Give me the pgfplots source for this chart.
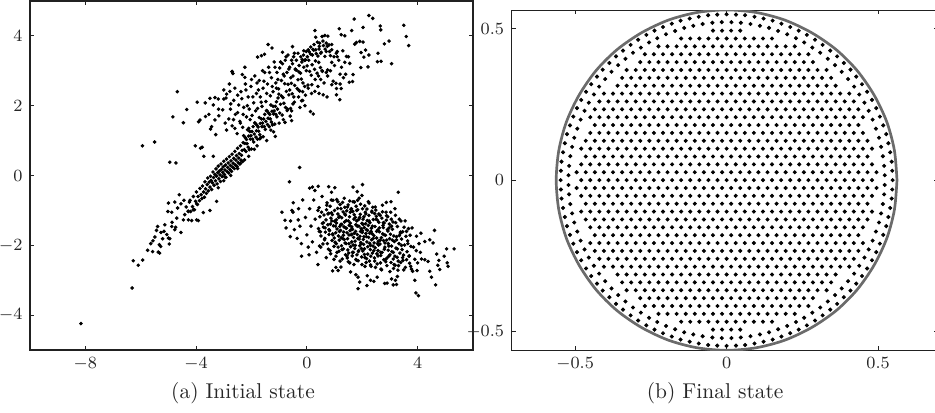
\documentclass[border=0pt]{standalone}
\usepackage{pgfplots}
\pgfplotsset{compat=1.18}
\definecolor{ax}{gray}{0.13}
\pgfplotsset{every tick label/.append style={font=\fontsize{8}{9}\selectfont,text=black!85},
 every tick/.style={ax,line width=.4pt}, tick align=inside, major tick length=2pt}
\begin{document}
\begin{tikzpicture}
\useasboundingbox (-14pt,-28.9pt) rectangle (422.3pt,163.4pt);
\begin{axis}[at={(0,0)},anchor=south west,scale only axis,width=206.7pt,height=163pt,
 xmin=-10,xmax=6,ymin=-5,ymax=5,xtick={-8,-4,0,4},ytick={-4,-2,0,2,4},axis line style={ax,line width=.7pt}]
\addplot[only marks,mark=*,mark size=.62pt,black,mark options={draw=none}] coordinates {
(-5.94,.85)(-5.5,.96)(-4.68,2.4)(-4.34,1.89)(-4.84,1.68)(-4.46,1.51)(-4.95,.38)(-4.73,.36)(-3.96,2.1)(-3.67,2.08)(-3.91,1.54)(-3.86,1.59)(-3.66,1.69)(-3.54,1.75)(-3.44,1.4)(-3.48,1.33)(-3.5,2.21)(-3.32,2.23)(-3.2,2.19)(-3.38,2.02)(-3.29,1.17)(-4.03,.85)(-3.84,.78)(-3.78,.81)(-3.72,.55)(-3.38,.55)(-2.7,2.98)(-2.67,2.92)(-2.8,2.62)(-3,2.45)(-2.9,2.33)(-2.78,2.41)(-2.6,2.5)(-3,2.19)(-2.92,2.22)(-3.19,1.9)(-3.04,1.88)(-3.18,1.71)(-3.32,1.59)
(2.24,4.58)(2.38,4.5)(1.71,4.48)(3.5,4.3)(3.59,3.98)(3.68,3.72)(2.65,4.28)(2.67,4.17)(2.03,4.24)(1.62,4.15)(1.17,4.2)(1.24,4.03)(1.37,4)(.29,4.15)(.32,3.96)(.55,3.98)(.65,4.01)(.76,3.99)(.7,3.79)(2.97,3.85)(2.8,3.77)(3.06,3.2)(2.57,3.5)(2.55,3.26)(2.68,3.27)(2.24,3.45)(2.12,3.59)(1.96,3.52)(2.06,3.39)(1.95,3.09)(2.21,3.11)(1.73,3.76)(1.79,3.81)(1.91,3.84)(2.03,3.82)(1.67,2.89)(1.53,2.67)(1.65,2.69)(1.3,3.57)(1.43,3.41)(1.37,3.24)(1.55,3.21)(1.19,2.17)(1.07,2.31)(1.07,2.49)(1.24,2.49)(1.2,2.62)(1.05,2.64)(.73,2.25)(.59,2.31)(.44,2.35)(.29,2.41)(.17,2.35)(.23,1.76)(.13,1.83)(-.07,2)(-.19,2.14)(-1.14,1.12)(-.26,.23)(-.63,-.18)(-.55,1.57)(-.79,1.52)(-1.4,3.75)(-1.26,3.65)(-.52,3.69)(.05,3.6)(-.11,3.57)(-.88,3.53)(-1.78,3.39)(-1.64,3.43)(-1.53,3.47)(-2.24,3.1)(-2.7,2.97)(-2.33,2.89)(-2.24,2.81)
(.1,-.36)(.2,-.33)(.41,-.31)(.29,-.43)(.79,-.32)(1.01,-.35)(.89,-.48)(1.67,-.33)(2.01,-.26)(1.82,-.46)(1.99,-.57)(3.3,-.48)(2.87,-.77)(3.04,-.75)(-.49,-.78)(-.79,-1.28)(-.59,-1.3)(-.31,-1.27)(-.54,-1)(-.35,-1.8)(-.19,-2.31)(.08,-2.27)(.4,-2.55)(.93,-2.73)(1.05,-2.63)(1.13,-2.72)(1.23,-2.62)(1.58,-2.76)(1.77,-2.84)(1.85,-2.91)(1.91,-3.05)(1.85,-3.24)(2.17,-3.15)(2.18,-2.87)(2.3,-3)(2.42,-3.03)(2.54,-2.91)(2.81,-3.09)(2.9,-3.08)(3.12,-3.13)(3.24,-3.12)(3.06,-2.96)(3.2,-3)(3.27,-2.89)(3.9,-3)(3.94,-3.36)(4.03,-3.44)(4.65,-3.13)(4.5,-2.91)(4.44,-2.74)(4.61,-1.57)(5.05,-2.1)(5.32,-2.1)(4.96,-2.31)(5.07,-2.5)(5.1,-2.6)(4.69,-2.25)(4.77,-2.43)(4.73,-2.57)(4.8,-2.69)(4.44,-1.84)(4.56,-1.93)(4.14,-2.39)(4.26,-2.41)(4.38,-2.46)(4.12,-1.65)(4.26,-1.89)(3.96,-1.74)(3.82,-2.74)(3.98,-2.72)
(-8.16,-4.24)(-6.31,-3.22)(-6.27,-2.44)(-6.09,-2.57)(-5.93,-2.42)(-5.75,-2.14)(-5.57,-2.18)(-5.37,-2.19)(-5.32,-2.22)(-5.64,-1.95)(-5.56,-1.87)(-5.49,-1.76)(-5.33,-1.98)(-5.28,-2.03)(-4.97,-1.96)(-4.95,-1.81)(-5.21,-1.81)(-5.27,-1.63)(-5.43,-1.57)(-5.39,-1.46)(-5.13,-1.41)(-5.06,-1.69)(-5.16,-1.6)(-5,-1.79)(-4.87,-1.34)(-4.88,-1.46)(-4.77,-1.55)(-4.55,-1.63)(-4.74,-1.48)(-5.02,-1.03)(-4.88,-1.05)(-4.67,-.93)(-4.7,-1.22)(-4.46,-1.27)(-4.28,-1.27)(-4.16,-1.29)(-3.98,-1.27)(-3.92,-1.29)(-4.28,-1.03)(-4.1,-.98)(-3.74,-1.06)(-3.5,-1)(-5,-.79)(-4.77,-.76)(-4.55,-.81)(-4.44,-.71)(-4.22,-.71)(-3.98,-.81)(-4.61,-.55)(-3.26,-.74)
(-4.41,-1.12)(-4.36,-.9)(-4.29,-1.02)(-4.24,-.76)(-4.2,-1.03)(-4.13,-.89)(-4.1,-.6)(-4.06,-.98)(-4.02,-.74)(-3.99,-.47)(-3.95,-.83)(-3.93,-.6)(-3.88,-.72)(-3.86,-.37)(-3.82,-.55)(-3.79,-.66)(-3.77,-.3)(-3.73,-.47)(-3.7,-.62)(-3.68,-.18)(-3.66,-.38)(-3.63,-.51)(-3.6,-.26)(-3.58,-.07)(-3.56,-.44)(-3.53,-.19)(-3.5,-.33)(-3.48,-.02)(-3.46,-.14)(-3.44,-.4)(-3.41,-.21)(-3.39,.1)(-3.37,-.06)(-3.35,-.28)(-3.32,.03)(-3.3,-.15)(-3.28,.19)(-3.26,-.02)(-3.24,-.24)(-3.22,.08)(-3.2,.27)(-3.18,-.09)(-3.16,.13)(-3.14,.02)(-3.12,-.17)(-3.1,.33)(-3.08,.18)(-3.06,-.03)(-3.04,.09)(-3.02,.25)(-3,.41)(-2.98,.03)(-2.96,.16)(-2.94,.3)(-2.92,-.05)(-2.9,.47)(-2.88,.11)(-2.86,.23)(-2.84,.36)(-2.82,.07)(-2.8,.54)(-2.78,.17)(-2.76,.29)(-2.74,.42)(-2.72,.12)(-2.7,.61)(-2.68,.24)(-2.66,.35)(-2.64,.49)(-2.62,.2)(-2.6,.69)(-2.58,.3)(-2.56,.44)(-2.54,.57)(-2.52,.26)(-2.5,.78)(-2.48,.37)(-2.46,.5)(-2.44,.63)(-2.42,.33)(-2.4,.85)(-2.38,.44)(-2.36,.58)(-2.34,.72)(-2.32,.4)(-2.3,.94)
(-2.28,1.14)(-2.26,.74)(-2.24,.92)(-2.22,1.08)(-2.2,.69)(-2.18,1.03)(-2.16,.91)(-2.14,1.31)(-2.12,.81)(-2.1,1.13)(-2.08,.74)(-2.06,1.26)(-2.04,1.04)(-2.02,1.14)(-2,.76)(-1.98,1.26)(-1.96,1.04)(-1.94,1.4)(-1.92,.96)(-1.9,1.19)(-1.88,1.51)(-1.86,1.49)(-1.84,1.1)(-1.82,1.28)(-1.8,1.44)(-1.78,1.04)(-1.76,1.39)(-1.74,1.27)(-1.72,1.66)(-1.7,1.17)(-1.68,1.49)(-1.66,1.09)(-1.64,1.62)(-1.62,1.4)(-1.6,1.5)(-1.58,1.11)(-1.56,1.62)(-1.54,1.4)(-1.52,1.75)(-1.5,1.32)(-1.48,1.55)(-1.46,1.86)(-1.44,1.85)(-1.42,1.46)(-1.4,1.64)(-1.38,1.79)(-1.36,1.4)(-1.34,1.75)(-1.32,1.62)(-1.3,2.02)(-1.28,1.53)(-1.26,1.84)(-1.24,1.45)(-1.22,1.98)(-1.2,1.76)(-1.18,1.85)(-1.16,1.47)(-1.14,1.98)(-1.12,1.75)(-1.1,2.11)(-1.08,1.68)(-1.06,1.9)(-1.04,2.22)
(-1.01,2.33)(-.98,1.79)(-.95,2.04)(-.92,2.28)(-.89,1.73)(-.86,2.23)(-.83,2.07)(-.8,2.63)(-.77,1.95)(-.74,2.41)(-.71,1.86)(-.68,2.61)(-.65,2.31)(-.62,2.45)(-.59,1.92)(-.56,2.64)(-.53,2.34)(-.5,2.85)(-.47,2.25)(-.44,2.58)(-.41,3.03)(-.38,3.02)(-.35,2.49)(-.32,2.74)(-.29,2.97)(-.26,2.42)(-.23,2.93)(-.2,2.76)(-.17,3.32)(-.14,2.65)(-.11,3.1)(-.08,2.55)(-.05,3.31)(-.02,3)(.01,3.14)(.04,2.59)(.07,3.3)(.1,2.98)(.13,3.48)(.16,2.87)(.19,3.17)(.22,3.61)(.25,3.59)(.28,3.04)(.31,3.28)(.34,3.49)(.37,2.93)(.4,3.42)(.43,3.24)(.46,3.79)(.49,3.09)(.52,3.53)(.56,2.98)(.6,3.72)(.65,3.41)(.7,3.55)(.75,3.02)(.8,3.74)(.85,3.43)(.9,3.24)(1,3.15)(1.1,3.4)(1.2,2.9)
(-2.4,1.5)(-2.3,1.75)(-2.15,2)(-2.05,1.6)(-1.95,2.25)(-1.85,1.85)(-1.75,2.45)(-1.65,2.1)(-1.55,2.7)(-1.45,2.35)(-1.35,2.95)(-1.25,2.55)(-1.15,3.1)(-1.05,2.75)(-.95,3.25)(-.85,2.9)(-.75,3.4)(-.65,3.05)(-.55,3.3)(-.45,3.5)(-2.6,1.35)(-2.5,1.8)(-2.35,2.2)(-2.2,2.45)(-2.1,1.35)(-2.75,2.05)(-2.65,1.6)(-2.95,1.5)(-2.5,2.3)(-2,2.75)(-1.8,2.65)(-1.6,3)(-1.1,2.5)(-.7,1.9)(-.5,2.05)(-.3,2.25)(-.15,2.4)(-.6,1.7)(-1.3,1.3)(-1,1.5)(-1.7,1.05)(-1.45,1)(-1.9,.75)(-2.25,.45)(-2.5,.2)(-2.75,0)(-3,-.15)(-3.2,-.35)(-2.95,-.05)(-2.4,.35)(-2.1,.55)(-1.8,.85)(-1.2,1.25)(-.85,1.6)(.5,2.75)(.7,2.95)(.9,2.6)(1.4,2.9)(.4,2.55)(1.5,3.4)(1.1,3.55)(.9,3.75)(.45,3.7)
(-2.9,1.3)(-2.82,1.62)(-2.76,1.9)(-2.7,1.42)(-2.64,2.15)(-2.58,1.75)(-2.52,1.2)(-2.46,2.02)(-2.42,1.55)(-2.38,2.4)(-2.32,1.38)(-2.28,1.95)(-2.22,2.62)(-2.18,1.68)(-2.12,2.25)(-2.08,1.9)(-2.02,2.55)(-1.98,1.72)(-1.92,2.08)(-1.88,2.85)(-1.82,2.35)(-1.78,1.92)(-1.72,2.72)(-1.68,2.25)(-1.62,1.98)(-1.58,2.5)(-1.52,2.95)(-1.48,2.12)(-1.42,2.62)(-1.38,3.1)(-1.32,2.28)(-1.28,2.8)(-1.22,2.4)(-1.18,3.25)(-1.12,2.65)(-1.08,2.95)(-1.02,2.48)(-.98,3.08)(-.92,2.72)(-.88,3.2)(-.82,2.85)(-.78,3.3)(-.72,2.95)(-.68,3.45)(-.62,3.1)(-.58,2.8)(-.52,3.2)(-.48,3.4)(-.42,3.05)(-.38,3.3)(-.32,3.5)(-.28,3.15)(-.22,3.4)(-.18,3.25)(-.12,3.45)(-.08,3.3)(-.02,3.55)(.02,3.4)(.08,3.55)(.14,3.68)(.2,3.45)(.26,3.75)(.32,3.6)(.38,3.82)(.44,3.62)(.5,3.5)(.58,3.85)(.66,3.62)(.74,3.7)(.82,3.55)(.9,3.6)(.98,3.4)(1.06,3.5)(1.15,3.3)(1.25,3.1)(1.32,2.8)(.95,2.7)(.85,3)(.75,2.85)(.62,2.65)(.55,3)(.42,2.85)(.3,2.75)(.18,2.6)(.05,2.5)(-.05,2.3)(-.15,2.15)(-.3,2.45)(-.45,2.1)(-.55,1.85)(-.25,1.95)
(-.9,-1.05)(-.75,-1.5)(-.6,-1.75)(-.5,-1.05)(-.45,-1.55)(-.3,-.95)(-.25,-1.45)(-.2,-1.95)(-.15,-.7)(-.05,-1.2)(0,-1.7)(.05,-2.05)(.1,-.95)(.15,-1.45)(.2,-1.9)(.25,-.7)(.3,-1.25)(.35,-2.2)(.4,-1)(.45,-1.6)(.5,-2.05)(.55,-.6)(.6,-1.35)(.65,-1.8)(.7,-2.35)(.72,-.85)(.76,-1.1)(.8,-1.55)(.84,-2.15)(.88,-.7)(.9,-1.3)(.94,-1.7)(.98,-2.4)(1,-1)(1.03,-1.45)(1.06,-1.95)(1.09,-2.2)(1.12,-.75)(1.15,-1.2)(1.18,-1.6)(1.2,-2.45)(1.23,-.95)(1.26,-1.4)(1.29,-1.8)(1.32,-2.1)(1.35,-.65)(1.37,-1.1)(1.4,-1.5)(1.42,-1.95)(1.45,-2.3)(1.47,-.9)(1.5,-1.3)(1.52,-1.7)(1.55,-2.5)(1.57,-1.05)(1.6,-1.55)(1.62,-1.9)(1.65,-2.2)(1.67,-.75)(1.7,-1.25)(1.72,-1.65)(1.75,-2)(1.77,-2.4)(1.8,-1)(1.82,-1.45)(1.84,-1.8)(1.87,-2.15)(1.89,-.65)(1.91,-1.2)(1.94,-1.6)(1.96,-1.95)(1.99,-2.55)(2.01,-.95)(2.03,-1.4)(2.06,-1.75)(2.08,-2.1)(2.1,-2.35)(2.13,-1.1)(2.15,-1.55)(2.17,-1.9)(2.2,-2.25)(2.22,-.75)(2.25,-1.3)(2.27,-1.65)(2.3,-2)(2.32,-2.6)(2.35,-1.05)(2.37,-1.45)(2.4,-1.8)(2.42,-2.15)(2.45,-2.45)(2.47,-.9)(2.5,-1.25)(2.52,-1.6)(2.55,-1.95)(2.57,-2.3)(2.6,-1.1)(2.62,-1.5)(2.65,-1.85)(2.67,-2.2)(2.7,-2.7)(2.73,-.85)(2.76,-1.35)(2.79,-1.7)(2.82,-2.05)(2.85,-2.4)(2.88,-1.15)(2.91,-1.55)(2.94,-1.95)(2.97,-2.3)(3,-2.75)(3.03,-1.05)(3.06,-1.45)(3.09,-1.85)(3.12,-2.2)(3.15,-2.55)(3.18,-.95)(3.21,-1.35)(3.24,-1.75)(3.27,-2.1)(3.3,-2.45)(3.34,-1.25)(3.38,-1.65)(3.42,-2)(3.46,-2.35)(3.5,-2.7)(3.55,-1.3)(3.6,-1.6)(3.65,-1.95)(3.7,-2.3)(3.75,-2.6)(3.8,-1.5)(3.85,-2.05)(3.9,-2.4)(3.95,-2.15)(4,-2.5)(4.05,-1.95)(4.1,-2.2)
(.42,-1.52)(.47,-1.18)(.51,-1.73)(.44,-.92)(.56,-1.37)(.58,-1.96)(.49,-1.61)(.53,-1.05)(.6,-1.48)(.46,-2.02)
(.62,-1.13)(.67,-1.62)(.71,-.98)(.64,-1.84)(.76,-1.41)(.78,-2.11)(.69,-1.27)(.73,-.78)(.8,-1.69)(.66,-1.5)(.74,-1.95)(.79,-1.08)
(.82,-1.58)(.87,-1.22)(.91,-1.86)(.84,-.88)(.96,-1.44)(.98,-2.03)(.89,-1.07)(.93,-1.67)(1,-1.31)(.86,-2.24)(.94,-.71)(.99,-1.79)(.85,-1.39)(.92,-1.12)
(1.02,-1.91)(1.07,-1.36)(1.11,-.94)(1.04,-1.64)(1.16,-2.17)(1.18,-1.17)(1.09,-1.53)(1.13,-2.05)(1.2,-.83)(1.06,-1.27)(1.14,-1.73)(1.19,-1.46)(1.05,-2.31)(1.12,-1.1)(1.17,-1.85)(1.08,-.69)
(1.22,-1.57)(1.27,-2.12)(1.31,-1.04)(1.24,-1.78)(1.36,-1.33)(1.38,-1.93)(1.29,-.77)(1.33,-1.62)(1.4,-2.27)(1.26,-1.21)(1.34,-1.47)(1.39,-1.13)(1.25,-2.01)(1.32,-1.71)(1.37,-.91)(1.28,-2.39)(1.35,-1.83)(1.23,-1.4)
(1.42,-1.29)(1.47,-1.81)(1.51,-2.22)(1.44,-1.01)(1.56,-1.58)(1.58,-2.04)(1.49,-.84)(1.53,-1.43)(1.6,-1.7)(1.46,-2.36)(1.54,-1.18)(1.59,-.97)(1.45,-1.64)(1.52,-1.95)(1.57,-1.36)(1.48,-2.13)(1.55,-.73)(1.43,-1.51)(1.5,-2.47)
(1.62,-1.47)(1.67,-1.99)(1.71,-1.12)(1.64,-2.3)(1.76,-1.6)(1.78,-.88)(1.69,-1.77)(1.73,-2.09)(1.8,-1.3)(1.66,-1.03)(1.74,-1.88)(1.79,-2.42)(1.65,-1.54)(1.72,-.76)(1.77,-1.41)(1.68,-2.2)(1.75,-1.2)(1.63,-1.68)(1.7,-2.55)(1.61,-.95)
(1.82,-1.69)(1.87,-1.26)(1.91,-2.01)(1.84,-.98)(1.96,-1.52)(1.98,-2.33)(1.89,-1.82)(1.93,-1.11)(2,-1.63)(1.86,-2.18)(1.94,-.82)(1.99,-1.37)(1.85,-2.44)(1.92,-1.74)(1.97,-2.09)(1.88,-1.45)(1.95,-1.92)(1.83,-.71)(1.9,-1.21)(1.81,-2.27)
(2.02,-2.16)(2.07,-1.49)(2.11,-1.05)(2.04,-1.83)(2.16,-2.38)(2.18,-1.29)(2.09,-.87)(2.13,-1.66)(2.2,-2.04)(2.06,-1.18)(2.14,-2.49)(2.19,-1.57)(2.05,-1.97)(2.12,-1.38)(2.17,-.96)(2.08,-2.26)(2.15,-1.75)(2.03,-1.25)(2.1,-2.6)(2.01,-1.58)
(2.22,-1.43)(2.27,-1.94)(2.31,-2.31)(2.24,-1.14)(2.36,-1.67)(2.38,-.91)(2.29,-2.12)(2.33,-1.51)(2.4,-1.26)(2.26,-2.45)(2.34,-1.84)(2.39,-2.02)(2.25,-.79)(2.32,-1.6)(2.37,-2.22)(2.28,-1.35)(2.35,-1.02)(2.23,-1.77)(2.3,-2.56)
(2.42,-1.72)(2.47,-2.07)(2.51,-1.17)(2.44,-2.36)(2.56,-1.56)(2.58,-1.88)(2.49,-.99)(2.53,-2.24)(2.6,-1.34)(2.46,-1.46)(2.54,-2.53)(2.59,-1.99)(2.45,-1.09)(2.52,-1.79)(2.57,-2.15)(2.48,-2.63)(2.55,-1.28)(2.43,-1.93)
(2.62,-1.61)(2.67,-2.29)(2.71,-1.22)(2.64,-1.96)(2.76,-1.49)(2.78,-2.41)(2.69,-1.78)(2.73,-1.04)(2.8,-2.11)(2.66,-2.5)(2.74,-1.67)(2.79,-1.36)(2.65,-1.14)(2.72,-2.2)(2.77,-1.86)(2.68,-2.68)(2.75,-1.43)
(2.82,-1.93)(2.87,-1.28)(2.91,-2.35)(2.84,-1.71)(2.96,-2.02)(2.98,-1.39)(2.89,-2.58)(2.93,-1.59)(3,-2.27)(2.86,-1.05)(2.94,-2.14)(2.99,-1.81)(2.85,-2.47)(2.92,-1.18)(2.97,-1.5)(2.88,-1.85)
(3.02,-1.68)(3.07,-2.18)(3.11,-1.33)(3.04,-2.49)(3.16,-1.89)(3.18,-2.31)(3.09,-1.54)(3.13,-2.66)(3.2,-1.14)(3.06,-2.02)(3.14,-1.73)(3.19,-2.57)(3.05,-1.25)(3.12,-2.39)
(3.22,-2.08)(3.27,-1.46)(3.31,-2.58)(3.24,-1.84)(3.36,-2.22)(3.38,-1.62)(3.29,-2.71)(3.33,-1.95)(3.4,-1.3)(3.26,-2.34)(3.34,-1.72)(3.39,-2.49)
(3.42,-1.82)(3.47,-2.43)(3.51,-1.48)(3.44,-2.12)(3.56,-2.63)(3.58,-1.74)(3.49,-2.28)(3.53,-1.99)(3.6,-2.41)(3.46,-1.61)
(3.62,-2.18)(3.67,-1.52)(3.71,-2.51)(3.64,-1.87)(3.76,-2.03)(3.78,-2.68)(3.69,-2.31)(3.73,-1.71)
};
\end{axis}
\begin{axis}[at={(224.7pt,0)},anchor=south west,scale only axis,width=199pt,height=158.7pt,
 xmin=-.71,xmax=.698,ymin=-.562,ymax=.562,xtick={-.5,0,.5},ytick={-.5,0,.5},axis line style={ax,line width=.5pt}]
\addplot[line width=1.25pt,color=black!58,smooth] coordinates {
(.5625,0)(.554,.098)(.529,.192)(.487,.281)(.431,.362)(.362,.431)(.281,.487)(.192,.529)(.098,.554)(0,.5625)
(-.098,.554)(-.192,.529)(-.281,.487)(-.362,.431)(-.431,.362)(-.487,.281)(-.529,.192)(-.554,.098)(-.5625,0)
(-.554,-.098)(-.529,-.192)(-.487,-.281)(-.431,-.362)(-.362,-.431)(-.281,-.487)(-.192,-.529)(-.098,-.554)(0,-.5625)
(.098,-.554)(.192,-.529)(.281,-.487)(.362,-.431)(.431,-.362)(.487,-.281)(.529,-.192)(.554,-.098)(.5625,0)};
\addplot[only marks,mark=*,mark size=.74pt,black,mark options={draw=none}] coordinates {
(.548,0)(.547,.031)(.545,.061)(.54,.092)(.534,.122)(.527,.152)(.517,.181)(.506,.21)(.494,.238)(.48,.265)(.464,.292)(.447,.317)(.428,.342)(.409,.365)(.387,.387)(.365,.409)(.342,.428)(.317,.447)(.292,.464)(.265,.48)(.238,.494)(.21,.506)(.181,.517)(.152,.527)(.122,.534)(.092,.54)(.061,.545)(.031,.547)
(0,.548)(-.031,.547)(-.061,.545)(-.092,.54)(-.122,.534)(-.152,.527)(-.181,.517)(-.21,.506)(-.238,.494)(-.265,.48)(-.292,.464)(-.317,.447)(-.342,.428)(-.365,.409)(-.387,.387)(-.409,.365)(-.428,.342)(-.447,.317)(-.464,.292)(-.48,.265)(-.494,.238)(-.506,.21)(-.517,.181)(-.527,.152)(-.534,.122)(-.54,.092)(-.545,.061)(-.547,.031)
(-.548,0)(-.547,-.031)(-.545,-.061)(-.54,-.092)(-.534,-.122)(-.527,-.152)(-.517,-.181)(-.506,-.21)(-.494,-.238)(-.48,-.265)(-.464,-.292)(-.447,-.317)(-.428,-.342)(-.409,-.365)(-.387,-.387)(-.365,-.409)(-.342,-.428)(-.317,-.447)(-.292,-.464)(-.265,-.48)(-.238,-.494)(-.21,-.506)(-.181,-.517)(-.152,-.527)(-.122,-.534)(-.092,-.54)(-.061,-.545)(-.031,-.547)
(0,-.548)(.031,-.547)(.061,-.545)(.092,-.54)(.122,-.534)(.152,-.527)(.181,-.517)(.21,-.506)(.238,-.494)(.265,-.48)(.292,-.464)(.317,-.447)(.342,-.428)(.365,-.409)(.387,-.387)(.409,-.365)(.428,-.342)(.447,-.317)(.464,-.292)(.48,-.265)(.494,-.238)(.506,-.21)(.517,-.181)(.527,-.152)(.534,-.122)(.54,-.092)(.545,-.061)(.547,-.031)
(.522,.016)(.52,.047)(.516,.079)(.51,.11)(.503,.14)(.493,.17)(.482,.2)(.469,.229)(.455,.256)(.438,.283)(.421,.309)(.401,.334)(.38,.358)(.358,.38)(.334,.401)(.309,.421)(.283,.438)(.256,.455)(.229,.469)(.2,.482)(.17,.493)(.14,.503)(.11,.51)(.079,.516)(.047,.52)(.016,.522)
(-.016,.522)(-.047,.52)(-.079,.516)(-.11,.51)(-.14,.503)(-.17,.493)(-.2,.482)(-.229,.469)(-.256,.455)(-.283,.438)(-.309,.421)(-.334,.401)(-.358,.38)(-.38,.358)(-.401,.334)(-.421,.309)(-.438,.283)(-.455,.256)(-.469,.229)(-.482,.2)(-.493,.17)(-.503,.14)(-.51,.11)(-.516,.079)(-.52,.047)(-.522,.016)
(-.522,-.016)(-.52,-.047)(-.516,-.079)(-.51,-.11)(-.503,-.14)(-.493,-.17)(-.482,-.2)(-.469,-.229)(-.455,-.256)(-.438,-.283)(-.421,-.309)(-.401,-.334)(-.38,-.358)(-.358,-.38)(-.334,-.401)(-.309,-.421)(-.283,-.438)(-.256,-.455)(-.229,-.469)(-.2,-.482)(-.17,-.493)(-.14,-.503)(-.11,-.51)(-.079,-.516)(-.047,-.52)(-.016,-.522)
(.016,-.522)(.047,-.52)(.079,-.516)(.11,-.51)(.14,-.503)(.17,-.493)(.2,-.482)(.229,-.469)(.256,-.455)(.283,-.438)(.309,-.421)(.334,-.401)(.358,-.38)(.38,-.358)(.401,-.334)(.421,-.309)(.438,-.283)(.455,-.256)(.469,-.229)(.482,-.2)(.493,-.17)(.503,-.14)(.51,-.11)(.516,-.079)(.52,-.047)(.522,-.016)
(-.48,0)(-.45,0)(-.42,0)(-.39,0)(-.36,0)(-.33,0)(-.3,0)(-.27,0)(-.24,0)(-.21,0)(-.18,0)(-.15,0)(-.12,0)(-.09,0)(-.06,0)(-.03,0)(0,0)(.03,0)(.06,0)(.09,0)(.12,0)(.15,0)(.18,0)(.21,0)(.24,0)(.27,0)(.3,0)(.33,0)(.36,0)(.39,0)(.42,0)(.45,0)(.48,0)
(-.495,.026)(-.465,.026)(-.435,.026)(-.405,.026)(-.375,.026)(-.345,.026)(-.315,.026)(-.285,.026)(-.255,.026)(-.225,.026)(-.195,.026)(-.165,.026)(-.135,.026)(-.105,.026)(-.075,.026)(-.045,.026)(-.015,.026)(.015,.026)(.045,.026)(.075,.026)(.105,.026)(.135,.026)(.165,.026)(.195,.026)(.225,.026)(.255,.026)(.285,.026)(.315,.026)(.345,.026)(.375,.026)(.405,.026)(.435,.026)(.465,.026)(.495,.026)
(-.495,-.026)(-.465,-.026)(-.435,-.026)(-.405,-.026)(-.375,-.026)(-.345,-.026)(-.315,-.026)(-.285,-.026)(-.255,-.026)(-.225,-.026)(-.195,-.026)(-.165,-.026)(-.135,-.026)(-.105,-.026)(-.075,-.026)(-.045,-.026)(-.015,-.026)(.015,-.026)(.045,-.026)(.075,-.026)(.105,-.026)(.135,-.026)(.165,-.026)(.195,-.026)(.225,-.026)(.255,-.026)(.285,-.026)(.315,-.026)(.345,-.026)(.375,-.026)(.405,-.026)(.435,-.026)(.465,-.026)(.495,-.026)
(-.48,.052)(-.45,.052)(-.42,.052)(-.39,.052)(-.36,.052)(-.33,.052)(-.3,.052)(-.27,.052)(-.24,.052)(-.21,.052)(-.18,.052)(-.15,.052)(-.12,.052)(-.09,.052)(-.06,.052)(-.03,.052)(0,.052)(.03,.052)(.06,.052)(.09,.052)(.12,.052)(.15,.052)(.18,.052)(.21,.052)(.24,.052)(.27,.052)(.3,.052)(.33,.052)(.36,.052)(.39,.052)(.42,.052)(.45,.052)(.48,.052)
(-.48,-.052)(-.45,-.052)(-.42,-.052)(-.39,-.052)(-.36,-.052)(-.33,-.052)(-.3,-.052)(-.27,-.052)(-.24,-.052)(-.21,-.052)(-.18,-.052)(-.15,-.052)(-.12,-.052)(-.09,-.052)(-.06,-.052)(-.03,-.052)(0,-.052)(.03,-.052)(.06,-.052)(.09,-.052)(.12,-.052)(.15,-.052)(.18,-.052)(.21,-.052)(.24,-.052)(.27,-.052)(.3,-.052)(.33,-.052)(.36,-.052)(.39,-.052)(.42,-.052)(.45,-.052)(.48,-.052)
(-.465,.078)(-.435,.078)(-.405,.078)(-.375,.078)(-.345,.078)(-.315,.078)(-.285,.078)(-.255,.078)(-.225,.078)(-.195,.078)(-.165,.078)(-.135,.078)(-.105,.078)(-.075,.078)(-.045,.078)(-.015,.078)(.015,.078)(.045,.078)(.075,.078)(.105,.078)(.135,.078)(.165,.078)(.195,.078)(.225,.078)(.255,.078)(.285,.078)(.315,.078)(.345,.078)(.375,.078)(.405,.078)(.435,.078)(.465,.078)
(-.465,-.078)(-.435,-.078)(-.405,-.078)(-.375,-.078)(-.345,-.078)(-.315,-.078)(-.285,-.078)(-.255,-.078)(-.225,-.078)(-.195,-.078)(-.165,-.078)(-.135,-.078)(-.105,-.078)(-.075,-.078)(-.045,-.078)(-.015,-.078)(.015,-.078)(.045,-.078)(.075,-.078)(.105,-.078)(.135,-.078)(.165,-.078)(.195,-.078)(.225,-.078)(.255,-.078)(.285,-.078)(.315,-.078)(.345,-.078)(.375,-.078)(.405,-.078)(.435,-.078)(.465,-.078)
(-.48,.104)(-.45,.104)(-.42,.104)(-.39,.104)(-.36,.104)(-.33,.104)(-.3,.104)(-.27,.104)(-.24,.104)(-.21,.104)(-.18,.104)(-.15,.104)(-.12,.104)(-.09,.104)(-.06,.104)(-.03,.104)(0,.104)(.03,.104)(.06,.104)(.09,.104)(.12,.104)(.15,.104)(.18,.104)(.21,.104)(.24,.104)(.27,.104)(.3,.104)(.33,.104)(.36,.104)(.39,.104)(.42,.104)(.45,.104)(.48,.104)
(-.48,-.104)(-.45,-.104)(-.42,-.104)(-.39,-.104)(-.36,-.104)(-.33,-.104)(-.3,-.104)(-.27,-.104)(-.24,-.104)(-.21,-.104)(-.18,-.104)(-.15,-.104)(-.12,-.104)(-.09,-.104)(-.06,-.104)(-.03,-.104)(0,-.104)(.03,-.104)(.06,-.104)(.09,-.104)(.12,-.104)(.15,-.104)(.18,-.104)(.21,-.104)(.24,-.104)(.27,-.104)(.3,-.104)(.33,-.104)(.36,-.104)(.39,-.104)(.42,-.104)(.45,-.104)(.48,-.104)
(-.465,.13)(-.435,.13)(-.405,.13)(-.375,.13)(-.345,.13)(-.315,.13)(-.285,.13)(-.255,.13)(-.225,.13)(-.195,.13)(-.165,.13)(-.135,.13)(-.105,.13)(-.075,.13)(-.045,.13)(-.015,.13)(.015,.13)(.045,.13)(.075,.13)(.105,.13)(.135,.13)(.165,.13)(.195,.13)(.225,.13)(.255,.13)(.285,.13)(.315,.13)(.345,.13)(.375,.13)(.405,.13)(.435,.13)(.465,.13)
(-.465,-.13)(-.435,-.13)(-.405,-.13)(-.375,-.13)(-.345,-.13)(-.315,-.13)(-.285,-.13)(-.255,-.13)(-.225,-.13)(-.195,-.13)(-.165,-.13)(-.135,-.13)(-.105,-.13)(-.075,-.13)(-.045,-.13)(-.015,-.13)(.015,-.13)(.045,-.13)(.075,-.13)(.105,-.13)(.135,-.13)(.165,-.13)(.195,-.13)(.225,-.13)(.255,-.13)(.285,-.13)(.315,-.13)(.345,-.13)(.375,-.13)(.405,-.13)(.435,-.13)(.465,-.13)
(-.45,.156)(-.42,.156)(-.39,.156)(-.36,.156)(-.33,.156)(-.3,.156)(-.27,.156)(-.24,.156)(-.21,.156)(-.18,.156)(-.15,.156)(-.12,.156)(-.09,.156)(-.06,.156)(-.03,.156)(0,.156)(.03,.156)(.06,.156)(.09,.156)(.12,.156)(.15,.156)(.18,.156)(.21,.156)(.24,.156)(.27,.156)(.3,.156)(.33,.156)(.36,.156)(.39,.156)(.42,.156)(.45,.156)
(-.45,-.156)(-.42,-.156)(-.39,-.156)(-.36,-.156)(-.33,-.156)(-.3,-.156)(-.27,-.156)(-.24,-.156)(-.21,-.156)(-.18,-.156)(-.15,-.156)(-.12,-.156)(-.09,-.156)(-.06,-.156)(-.03,-.156)(0,-.156)(.03,-.156)(.06,-.156)(.09,-.156)(.12,-.156)(.15,-.156)(.18,-.156)(.21,-.156)(.24,-.156)(.27,-.156)(.3,-.156)(.33,-.156)(.36,-.156)(.39,-.156)(.42,-.156)(.45,-.156)
(-.435,.182)(-.405,.182)(-.375,.182)(-.345,.182)(-.315,.182)(-.285,.182)(-.255,.182)(-.225,.182)(-.195,.182)(-.165,.182)(-.135,.182)(-.105,.182)(-.075,.182)(-.045,.182)(-.015,.182)(.015,.182)(.045,.182)(.075,.182)(.105,.182)(.135,.182)(.165,.182)(.195,.182)(.225,.182)(.255,.182)(.285,.182)(.315,.182)(.345,.182)(.375,.182)(.405,.182)(.435,.182)
(-.435,-.182)(-.405,-.182)(-.375,-.182)(-.345,-.182)(-.315,-.182)(-.285,-.182)(-.255,-.182)(-.225,-.182)(-.195,-.182)(-.165,-.182)(-.135,-.182)(-.105,-.182)(-.075,-.182)(-.045,-.182)(-.015,-.182)(.015,-.182)(.045,-.182)(.075,-.182)(.105,-.182)(.135,-.182)(.165,-.182)(.195,-.182)(.225,-.182)(.255,-.182)(.285,-.182)(.315,-.182)(.345,-.182)(.375,-.182)(.405,-.182)(.435,-.182)
(-.45,.208)(-.42,.208)(-.39,.208)(-.36,.208)(-.33,.208)(-.3,.208)(-.27,.208)(-.24,.208)(-.21,.208)(-.18,.208)(-.15,.208)(-.12,.208)(-.09,.208)(-.06,.208)(-.03,.208)(0,.208)(.03,.208)(.06,.208)(.09,.208)(.12,.208)(.15,.208)(.18,.208)(.21,.208)(.24,.208)(.27,.208)(.3,.208)(.33,.208)(.36,.208)(.39,.208)(.42,.208)(.45,.208)
(-.45,-.208)(-.42,-.208)(-.39,-.208)(-.36,-.208)(-.33,-.208)(-.3,-.208)(-.27,-.208)(-.24,-.208)(-.21,-.208)(-.18,-.208)(-.15,-.208)(-.12,-.208)(-.09,-.208)(-.06,-.208)(-.03,-.208)(0,-.208)(.03,-.208)(.06,-.208)(.09,-.208)(.12,-.208)(.15,-.208)(.18,-.208)(.21,-.208)(.24,-.208)(.27,-.208)(.3,-.208)(.33,-.208)(.36,-.208)(.39,-.208)(.42,-.208)(.45,-.208)
(-.435,.234)(-.405,.234)(-.375,.234)(-.345,.234)(-.315,.234)(-.285,.234)(-.255,.234)(-.225,.234)(-.195,.234)(-.165,.234)(-.135,.234)(-.105,.234)(-.075,.234)(-.045,.234)(-.015,.234)(.015,.234)(.045,.234)(.075,.234)(.105,.234)(.135,.234)(.165,.234)(.195,.234)(.225,.234)(.255,.234)(.285,.234)(.315,.234)(.345,.234)(.375,.234)(.405,.234)(.435,.234)
(-.435,-.234)(-.405,-.234)(-.375,-.234)(-.345,-.234)(-.315,-.234)(-.285,-.234)(-.255,-.234)(-.225,-.234)(-.195,-.234)(-.165,-.234)(-.135,-.234)(-.105,-.234)(-.075,-.234)(-.045,-.234)(-.015,-.234)(.015,-.234)(.045,-.234)(.075,-.234)(.105,-.234)(.135,-.234)(.165,-.234)(.195,-.234)(.225,-.234)(.255,-.234)(.285,-.234)(.315,-.234)(.345,-.234)(.375,-.234)(.405,-.234)(.435,-.234)
(-.42,.26)(-.39,.26)(-.36,.26)(-.33,.26)(-.3,.26)(-.27,.26)(-.24,.26)(-.21,.26)(-.18,.26)(-.15,.26)(-.12,.26)(-.09,.26)(-.06,.26)(-.03,.26)(0,.26)(.03,.26)(.06,.26)(.09,.26)(.12,.26)(.15,.26)(.18,.26)(.21,.26)(.24,.26)(.27,.26)(.3,.26)(.33,.26)(.36,.26)(.39,.26)(.42,.26)
(-.42,-.26)(-.39,-.26)(-.36,-.26)(-.33,-.26)(-.3,-.26)(-.27,-.26)(-.24,-.26)(-.21,-.26)(-.18,-.26)(-.15,-.26)(-.12,-.26)(-.09,-.26)(-.06,-.26)(-.03,-.26)(0,-.26)(.03,-.26)(.06,-.26)(.09,-.26)(.12,-.26)(.15,-.26)(.18,-.26)(.21,-.26)(.24,-.26)(.27,-.26)(.3,-.26)(.33,-.26)(.36,-.26)(.39,-.26)(.42,-.26)
(-.405,.286)(-.375,.286)(-.345,.286)(-.315,.286)(-.285,.286)(-.255,.286)(-.225,.286)(-.195,.286)(-.165,.286)(-.135,.286)(-.105,.286)(-.075,.286)(-.045,.286)(-.015,.286)(.015,.286)(.045,.286)(.075,.286)(.105,.286)(.135,.286)(.165,.286)(.195,.286)(.225,.286)(.255,.286)(.285,.286)(.315,.286)(.345,.286)(.375,.286)(.405,.286)
(-.405,-.286)(-.375,-.286)(-.345,-.286)(-.315,-.286)(-.285,-.286)(-.255,-.286)(-.225,-.286)(-.195,-.286)(-.165,-.286)(-.135,-.286)(-.105,-.286)(-.075,-.286)(-.045,-.286)(-.015,-.286)(.015,-.286)(.045,-.286)(.075,-.286)(.105,-.286)(.135,-.286)(.165,-.286)(.195,-.286)(.225,-.286)(.255,-.286)(.285,-.286)(.315,-.286)(.345,-.286)(.375,-.286)(.405,-.286)
(-.36,.312)(-.33,.312)(-.3,.312)(-.27,.312)(-.24,.312)(-.21,.312)(-.18,.312)(-.15,.312)(-.12,.312)(-.09,.312)(-.06,.312)(-.03,.312)(0,.312)(.03,.312)(.06,.312)(.09,.312)(.12,.312)(.15,.312)(.18,.312)(.21,.312)(.24,.312)(.27,.312)(.3,.312)(.33,.312)(.36,.312)
(-.36,-.312)(-.33,-.312)(-.3,-.312)(-.27,-.312)(-.24,-.312)(-.21,-.312)(-.18,-.312)(-.15,-.312)(-.12,-.312)(-.09,-.312)(-.06,-.312)(-.03,-.312)(0,-.312)(.03,-.312)(.06,-.312)(.09,-.312)(.12,-.312)(.15,-.312)(.18,-.312)(.21,-.312)(.24,-.312)(.27,-.312)(.3,-.312)(.33,-.312)(.36,-.312)
(-.345,.338)(-.315,.338)(-.285,.338)(-.255,.338)(-.225,.338)(-.195,.338)(-.165,.338)(-.135,.338)(-.105,.338)(-.075,.338)(-.045,.338)(-.015,.338)(.015,.338)(.045,.338)(.075,.338)(.105,.338)(.135,.338)(.165,.338)(.195,.338)(.225,.338)(.255,.338)(.285,.338)(.315,.338)(.345,.338)
(-.345,-.338)(-.315,-.338)(-.285,-.338)(-.255,-.338)(-.225,-.338)(-.195,-.338)(-.165,-.338)(-.135,-.338)(-.105,-.338)(-.075,-.338)(-.045,-.338)(-.015,-.338)(.015,-.338)(.045,-.338)(.075,-.338)(.105,-.338)(.135,-.338)(.165,-.338)(.195,-.338)(.225,-.338)(.255,-.338)(.285,-.338)(.315,-.338)(.345,-.338)
(-.33,.364)(-.3,.364)(-.27,.364)(-.24,.364)(-.21,.364)(-.18,.364)(-.15,.364)(-.12,.364)(-.09,.364)(-.06,.364)(-.03,.364)(0,.364)(.03,.364)(.06,.364)(.09,.364)(.12,.364)(.15,.364)(.18,.364)(.21,.364)(.24,.364)(.27,.364)(.3,.364)(.33,.364)
(-.33,-.364)(-.3,-.364)(-.27,-.364)(-.24,-.364)(-.21,-.364)(-.18,-.364)(-.15,-.364)(-.12,-.364)(-.09,-.364)(-.06,-.364)(-.03,-.364)(0,-.364)(.03,-.364)(.06,-.364)(.09,-.364)(.12,-.364)(.15,-.364)(.18,-.364)(.21,-.364)(.24,-.364)(.27,-.364)(.3,-.364)(.33,-.364)
(-.285,.39)(-.255,.39)(-.225,.39)(-.195,.39)(-.165,.39)(-.135,.39)(-.105,.39)(-.075,.39)(-.045,.39)(-.015,.39)(.015,.39)(.045,.39)(.075,.39)(.105,.39)(.135,.39)(.165,.39)(.195,.39)(.225,.39)(.255,.39)(.285,.39)
(-.285,-.39)(-.255,-.39)(-.225,-.39)(-.195,-.39)(-.165,-.39)(-.135,-.39)(-.105,-.39)(-.075,-.39)(-.045,-.39)(-.015,-.39)(.015,-.39)(.045,-.39)(.075,-.39)(.105,-.39)(.135,-.39)(.165,-.39)(.195,-.39)(.225,-.39)(.255,-.39)(.285,-.39)
(-.27,.416)(-.24,.416)(-.21,.416)(-.18,.416)(-.15,.416)(-.12,.416)(-.09,.416)(-.06,.416)(-.03,.416)(0,.416)(.03,.416)(.06,.416)(.09,.416)(.12,.416)(.15,.416)(.18,.416)(.21,.416)(.24,.416)(.27,.416)
(-.27,-.416)(-.24,-.416)(-.21,-.416)(-.18,-.416)(-.15,-.416)(-.12,-.416)(-.09,-.416)(-.06,-.416)(-.03,-.416)(0,-.416)(.03,-.416)(.06,-.416)(.09,-.416)(.12,-.416)(.15,-.416)(.18,-.416)(.21,-.416)(.24,-.416)(.27,-.416)
(-.225,.442)(-.195,.442)(-.165,.442)(-.135,.442)(-.105,.442)(-.075,.442)(-.045,.442)(-.015,.442)(.015,.442)(.045,.442)(.075,.442)(.105,.442)(.135,.442)(.165,.442)(.195,.442)(.225,.442)
(-.225,-.442)(-.195,-.442)(-.165,-.442)(-.135,-.442)(-.105,-.442)(-.075,-.442)(-.045,-.442)(-.015,-.442)(.015,-.442)(.045,-.442)(.075,-.442)(.105,-.442)(.135,-.442)(.165,-.442)(.195,-.442)(.225,-.442)
(-.15,.468)(-.12,.468)(-.09,.468)(-.06,.468)(-.03,.468)(0,.468)(.03,.468)(.06,.468)(.09,.468)(.12,.468)(.15,.468)
(-.15,-.468)(-.12,-.468)(-.09,-.468)(-.06,-.468)(-.03,-.468)(0,-.468)(.03,-.468)(.06,-.468)(.09,-.468)(.12,-.468)(.15,-.468)
(-.045,.494)(-.015,.494)(.015,.494)(.045,.494)
(-.045,-.494)(-.015,-.494)(.015,-.494)(.045,-.494)
};
\end{axis}
\node[anchor=base,text=black!85] at (99.4pt,-22.4pt) {(a) Initial state};
\node[anchor=base,text=black!85] at (319.7pt,-22.4pt) {(b) Final state};
\end{tikzpicture}
\end{document}
